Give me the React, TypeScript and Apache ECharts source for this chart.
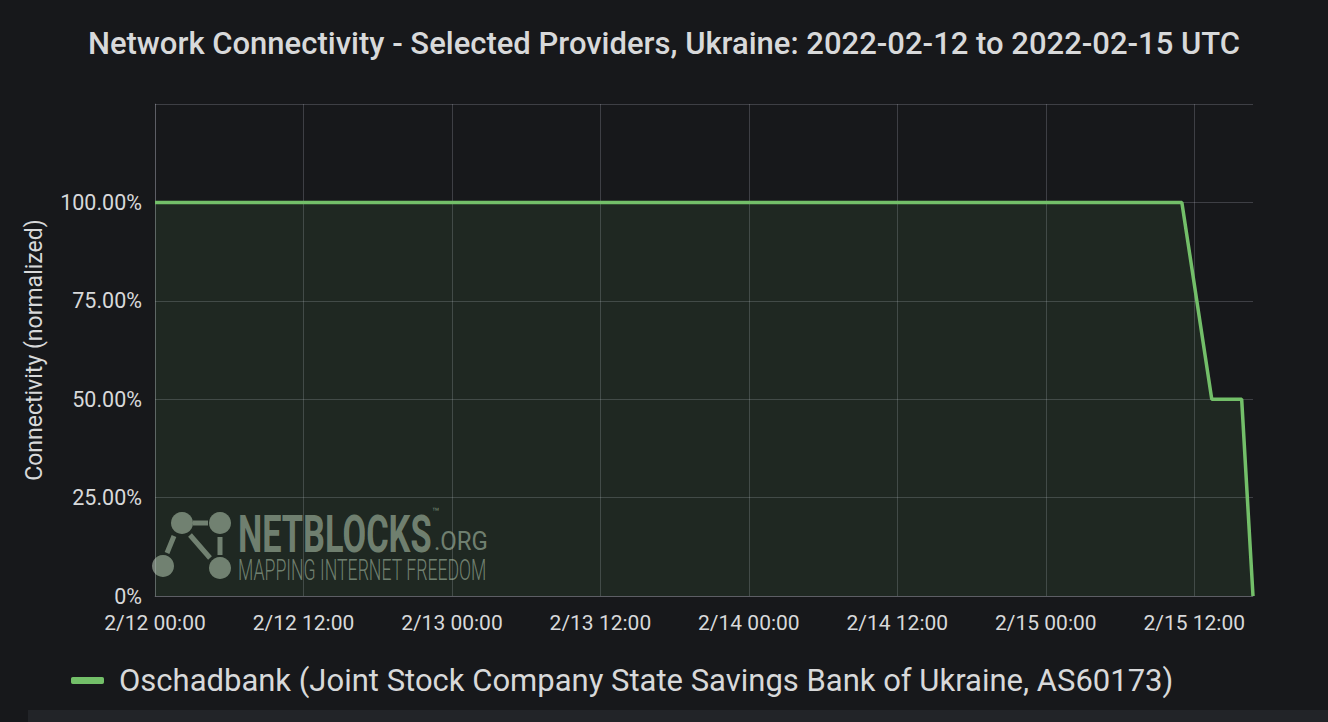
import React, { useEffect, useRef } from "react";
import * as echarts from "echarts";

const seriesName = "Oschadbank (Joint Stock Company State Savings Bank of Ukraine, AS60173)";
const times = [
  "2022-02-12T00:00:00Z",
  "2022-02-15T11:00:00Z",
  "2022-02-15T13:25:00Z",
  "2022-02-15T15:50:00Z",
  "2022-02-15T16:45:00Z",
];
const values = [100, 100, 50, 50, 0];
const yTicks = [0, 25, 50, 75, 100, 125];
const titleText = "Network Connectivity - Selected Providers, Ukraine: 2022-02-12 to 2022-02-15 UTC";

const HOUR = 3600 * 1000;
const pad = (n: number) => (n < 10 ? "0" + n : "" + n);

export default function App() {
  const ref = useRef<HTMLDivElement>(null);
  useEffect(() => {
    if (!ref.current) return;
    const chart = echarts.init(ref.current, null, { renderer: "svg" });
    const ts = times.map((t) => Date.parse(t));
    const data = ts.map((t, i) => [t, values[i]]);
    const text = "#d8d9da";
    const gridCol = "rgba(204,204,220,0.22)";
    const logoCol = "rgba(190,205,188,0.55)";
    chart.setOption({
      animation: false,
      backgroundColor: "#17181b",
      title: {
        text: titleText,
        left: "center",
        top: 23,
        textStyle: { color: text, fontSize: 31, fontWeight: 500, fontFamily: "Roboto" },
      },
      grid: { left: 155, right: 75, top: 104, bottom: 126 },
      xAxis: {
        type: "value",
        min: ts[0],
        max: ts[ts.length - 1],
        interval: 12 * HOUR,
        axisLine: { show: true, lineStyle: { color: gridCol } },
        axisTick: { show: false },
        splitLine: { show: true, showMaxLine: false, lineStyle: { color: gridCol, width: 1 } },
        axisLabel: {
          color: text,
          fontSize: 21,
          fontFamily: "Roboto",
          margin: 16,
          showMaxLabel: false,
          formatter: (v: number) => {
            const d = new Date(v);
            return `${d.getUTCMonth() + 1}/${d.getUTCDate()} ${pad(d.getUTCHours())}:${pad(d.getUTCMinutes())}`;
          },
        },
      },
      yAxis: {
        type: "value",
        min: yTicks[0],
        max: yTicks[yTicks.length - 1],
        interval: 25,
        name: "Connectivity (normalized)",
        nameLocation: "middle",
        nameGap: 109,
        nameTextStyle: { color: text, fontSize: 23, fontFamily: "Roboto" },
        axisLine: { show: true, lineStyle: { color: gridCol } },
        axisTick: { show: false },
        splitLine: { show: true, lineStyle: { color: gridCol, width: 1 } },
        axisLabel: {
          color: text,
          fontSize: 21.5,
          fontFamily: "Roboto",
          margin: 13,
          showMaxLabel: false,
          formatter: (v: number) => (v === 0 ? "0%" : v.toFixed(2) + "%"),
        },
      },
      legend: {
        left: 66,
        top: 660,
        icon: "roundRect",
        itemWidth: 33,
        itemHeight: 7,
        textStyle: { color: text, fontSize: 31, fontFamily: "Roboto", padding: [0, 0, 0, 10] },
        data: [seriesName],
      },
      graphic: [
        { type: "rect", shape: { x: 28, y: 710, width: 1300, height: 12 }, style: { fill: "#222428" } },
        {
          type: "group",
          z: 10,
          silent: true,
          children: [
            { type: "line", shape: { x1: 193, y1: 523, x2: 208, y2: 523 }, style: { stroke: logoCol, lineWidth: 5 } },
            { type: "line", shape: { x1: 174, y1: 536, x2: 167, y2: 553 }, style: { stroke: logoCol, lineWidth: 5 } },
            { type: "line", shape: { x1: 190, y1: 535, x2: 210, y2: 558 }, style: { stroke: logoCol, lineWidth: 5 } },
            { type: "line", shape: { x1: 220, y1: 537, x2: 220, y2: 555 }, style: { stroke: logoCol, lineWidth: 5 } },
            { type: "circle", shape: { cx: 182, cy: 523, r: 11 }, style: { fill: logoCol } },
            { type: "circle", shape: { cx: 220, cy: 523, r: 11 }, style: { fill: logoCol } },
            { type: "circle", shape: { cx: 163, cy: 566, r: 11 }, style: { fill: logoCol } },
            { type: "circle", shape: { cx: 220, cy: 568, r: 11 }, style: { fill: logoCol } },
            {
              type: "text",
              x: 238,
              y: 560,
              scaleX: 0.66,
              style: { text: "NETBLOCKS", fill: logoCol, font: "bold 52px Roboto", textVerticalAlign: "bottom" },
            },
            {
              type: "text",
              x: 432,
              y: 518,
              style: { text: "™", fill: logoCol, font: "12px Roboto", textVerticalAlign: "bottom" },
            },
            {
              type: "text",
              x: 434,
              y: 554,
              scaleX: 0.96,
              style: { text: ".ORG", fill: logoCol, font: "25px Roboto", textVerticalAlign: "bottom" },
            },
            {
              type: "text",
              x: 238,
              y: 585,
              scaleX: 0.61,
              style: { text: "MAPPING INTERNET FREEDOM", fill: logoCol, font: "300 29px Roboto", textVerticalAlign: "bottom" },
            },
          ],
        },
      ],
      series: [
        {
          name: seriesName,
          type: "line",
          data,
          showSymbol: false,
          color: "#73bf69",
          lineStyle: { color: "#73bf69", width: 3.5 },
          areaStyle: { color: "rgba(115,191,105,0.14)" },
        },
      ],
    });
    return () => chart.dispose();
  }, []);
  return <div ref={ref} style={{ position: "fixed", left: 0, top: 0, width: 1328, height: 722 }} />;
}
